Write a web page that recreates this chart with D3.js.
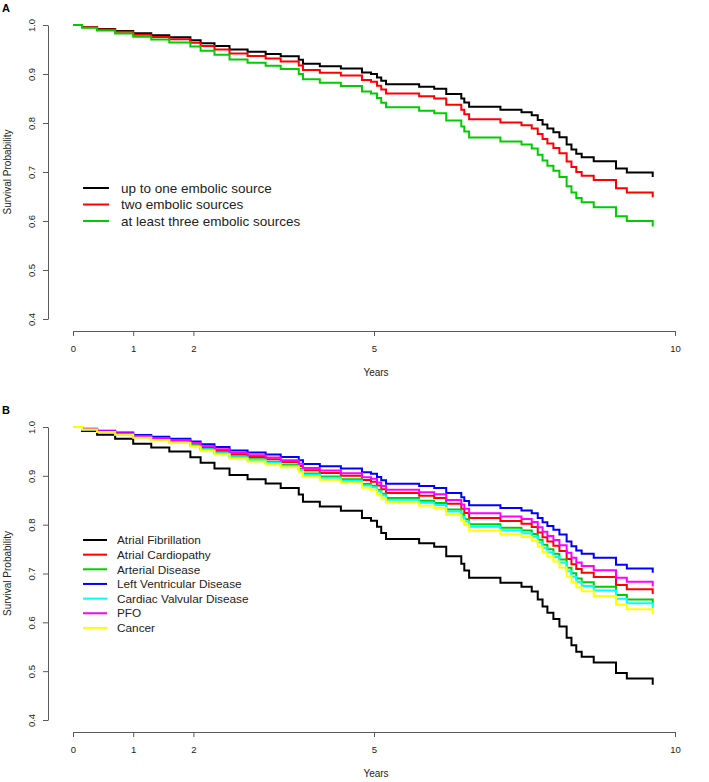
<!DOCTYPE html>
<html>
<head>
<meta charset="utf-8">
<script src="https://cdn.jsdelivr.net/npm/d3@7"></script>
<style>
  html, body { margin: 0; padding: 0; background: #fff; }
  svg { display: block; font-family: "Liberation Sans", Arial, Helvetica, sans-serif; }
</style>
</head>
<body>
<svg id="chart" width="709" height="782"></svg>
<script>
// ---- Data ----
const times = [0, 0.15, 0.4, 0.7, 1.0, 1.3, 1.6, 1.95, 2.12, 2.35, 2.6, 2.9, 3.2, 3.45, 3.75, 3.82, 4.1, 4.45, 4.8, 4.95, 5.05, 5.12, 5.2, 5.75, 6.0, 6.2, 6.45, 6.5, 6.58, 7.1, 7.45, 7.62, 7.72, 7.8, 7.88, 7.98, 8.08, 8.2, 8.28, 8.36, 8.45, 8.65, 9.02, 9.2, 9.63];

// Panel A
const aUpToOne = [1, .996, .992, .988, .983, .979, .975, .969, .963, .957, .95, .9455, .941, .936, .929, .921, .916, .911, .903, .9, .893, .886, .879, .874, .87, .859, .85, .842, .833, .827, .822, .816, .806, .797, .789, .781, .771, .756, .746, .737, .73, .722, .707, .699, .69];
const aTwo = [1, .9953, .9907, .9860, .9801, .9755, .9708, .9639, .9569, .9499, .9418, .9366, .9315, .9257, .9175, .9083, .9025, .8969, .8877, .8842, .8762, .8682, .8601, .8544, .8498, .8373, .8271, .8180, .8079, .8010, .7954, .7886, .7773, .7672, .7582, .7492, .7381, .7213, .7102, .7001, .6924, .6836, .6670, .6582, .6483];
const aThreePlus = [1, .9943, .9886, .9829, .9758, .9702, .9644, .9560, .9476, .9391, .9294, .9231, .9169, .9100, .9002, .8892, .8822, .8755, .8645, .8604, .8508, .8414, .8319, .8251, .8197, .8050, .7930, .7824, .7705, .7625, .7560, .7482, .7351, .7234, .7130, .7028, .6900, .6709, .6583, .6469, .6382, .6283, .6097, .5999, .5888];

// Panel B
const bAtrialFib = [1, .9920, .9840, .9758, .9658, .9581, .9500, .9383, .9266, .9149, .9015, .8928, .8844, .8750, .8616, .8468, .8374, .8283, .8137, .8081, .7955, .7831, .7705, .7617, .7546, .7355, .7201, .7064, .6913, .6811, .6729, .6631, .6467, .6322, .6194, .6068, .5913, .5682, .5531, .5397, .5294, .5178, .4963, .4850, .4724];
const bAtrialCardio = [1, .9955, .9910, .9865, .9808, .9764, .9718, .9651, .9584, .9516, .9438, .9387, .9338, .9282, .9203, .9114, .9058, .9003, .8914, .8880, .8802, .8725, .8647, .8592, .8547, .8426, .8327, .8238, .8139, .8073, .8018, .7952, .7842, .7744, .7656, .7568, .7460, .7296, .7188, .7090, .7014, .6928, .6766, .6679, .6582];
const bArterial = [1, .9952, .9903, .9854, .9793, .9746, .9696, .9624, .9552, .9479, .9395, .9341, .9287, .9228, .9143, .9048, .8987, .8929, .8834, .8797, .8714, .8632, .8548, .8489, .8442, .8312, .8207, .8113, .8008, .7937, .7879, .7810, .7693, .7589, .7497, .7404, .7289, .7117, .7003, .6900, .6820, .6730, .6560, .6470, .6368];
const bLeftVent = [1, .9962, .9924, .9885, .9837, .9799, .9760, .9703, .9646, .9588, .9521, .9478, .9435, .9388, .9320, .9243, .9195, .9148, .9071, .9042, .8974, .8908, .8840, .8792, .8753, .8648, .8561, .8484, .8397, .8339, .8291, .8234, .8137, .8050, .7973, .7895, .7799, .7654, .7557, .7469, .7402, .7324, .7179, .7101, .7013];
const bValvular = [1, .9950, .9900, .9850, .9787, .9738, .9687, .9614, .9539, .9464, .9378, .9322, .9268, .9206, .9119, .9022, .8960, .8900, .8802, .8765, .8680, .8595, .8510, .8449, .8401, .8268, .8160, .8064, .7957, .7884, .7825, .7755, .7635, .7529, .7434, .7340, .7223, .7048, .6931, .6827, .6746, .6654, .6481, .6389, .6286];
const bPFO = [1, .9957, .9915, .9872, .9818, .9777, .9733, .9670, .9606, .9542, .9468, .9420, .9373, .9320, .9245, .9161, .9107, .9055, .8971, .8938, .8864, .8791, .8716, .8664, .8621, .8505, .8411, .8326, .8232, .8168, .8116, .8053, .7948, .7853, .7769, .7686, .7581, .7424, .7320, .7225, .7152, .7069, .6913, .6829, .6735];
const bCancer = [1, .9948, .9896, .9843, .9778, .9727, .9674, .9598, .9520, .9442, .9353, .9295, .9238, .9174, .9084, .8982, .8918, .8856, .8755, .8716, .8628, .8540, .8452, .8389, .8339, .8202, .8090, .7991, .7880, .7806, .7745, .7671, .7548, .7439, .7341, .7244, .7124, .6944, .6824, .6717, .6634, .6540, .6363, .6269, .6164];

const labelsA = ["up to one embolic source", "two embolic sources", "at least three embolic sources"];
const colorsA = ["#000000", "#ff0000", "#00cd00"];
const labelsB = ["Atrial Fibrillation", "Atrial Cardiopathy", "Arterial Disease", "Left Ventricular Disease", "Cardiac Valvular Disease", "PFO", "Cancer"];
const colorsB = ["#000000", "#ff0000", "#00cd00", "#0000ff", "#00ffff", "#ff00ff", "#ffff00"];

const xTicks = [0, 1, 2, 5, 10];
const yTicks = [0.4, 0.5, 0.6, 0.7, 0.8, 0.9, 1.0];
const xDomain = [0, 10];
const yDomain = [0.4, 1.0];

// ---- Drawing ----
const svg = d3.select("#chart");
svg.append("rect").attr("width", 709).attr("height", 782).attr("fill", "#fff");

const AXIS_COL = "#5a5a5a";
const TEXT_COL = "#222";

function drawPanel(cfg) {
  const g = svg.append("g");
  const x = d3.scaleLinear().domain(xDomain).range([73, 675]);
  const y = d3.scaleLinear().domain(yDomain).range([cfg.yBottom, cfg.yTop]);

  // Y axis
  const ya = g.append("g").attr("transform", `translate(48,0)`)
    .call(d3.axisLeft(y).tickValues(yTicks).tickSize(5).tickSizeOuter(0).tickFormat(d3.format(".1f")));
  ya.select(".domain").attr("stroke", AXIS_COL);
  ya.selectAll(".tick line").attr("stroke", AXIS_COL);
  ya.selectAll(".tick text")
    .attr("x", null).attr("dy", null)
    .attr("transform", "translate(-13.5,0) rotate(-90)")
    .attr("text-anchor", "middle")
    .attr("font-size", 9.5).attr("font-family", null).attr("fill", TEXT_COL);

  // X axis
  const xa = g.append("g").attr("transform", `translate(0,${cfg.axisY})`)
    .call(d3.axisBottom(x).tickValues(xTicks).tickSize(5).tickSizeOuter(0).tickFormat(d3.format("d")));
  xa.select(".domain").attr("stroke", AXIS_COL);
  xa.selectAll(".tick line").attr("stroke", AXIS_COL);
  xa.selectAll(".tick text")
    .attr("y", 20.5).attr("dy", null)
    .attr("font-size", 9.5).attr("font-family", null).attr("fill", TEXT_COL);

  // Axis titles
  g.append("text").attr("transform", `translate(10.6,${(cfg.yTop + cfg.yBottom) / 2}) rotate(-90)`)
    .attr("text-anchor", "middle").attr("font-size", 10).attr("fill", TEXT_COL).text("Survival Probability");
  g.append("text").attr("x", 376).attr("y", cfg.axisY + 45)
    .attr("text-anchor", "middle").attr("font-size", 10).attr("fill", TEXT_COL).text("Years");

  // Panel letter
  g.append("text").attr("x", 2).attr("y", cfg.letterY).attr("font-size", 11).attr("font-weight", "bold")
    .attr("fill", "#000").text(cfg.letter);

  // Curves
  const line = d3.line().x(d => x(d[0])).y(d => y(d[1])).curve(d3.curveStepAfter);
  cfg.series.forEach((vals, i) => {
    const pts = times.map((t, k) => [t, vals[k]]);
    g.append("path").attr("d", line(pts)).attr("fill", "none")
      .attr("stroke", cfg.colors[i]).attr("stroke-width", 2).attr("stroke-linejoin", "miter");
  });

  // Legend
  const lg = g.append("g");
  cfg.labels.forEach((lab, i) => {
    const ly = cfg.legendY + i * cfg.legendStep;
    lg.append("line").attr("x1", 83).attr("x2", cfg.legendLineEnd).attr("y1", ly).attr("y2", ly)
      .attr("stroke", cfg.colors[i]).attr("stroke-width", 2);
    lg.append("text").attr("x", cfg.legendTextX).attr("y", ly).attr("dy", "0.36em")
      .attr("font-size", cfg.legendFont).attr("fill", TEXT_COL).text(lab);
  });
}

drawPanel({
  letter: "A", letterY: 12, yTop: 25, yBottom: 319, axisY: 331,
  series: [aUpToOne, aTwo, aThreePlus], colors: colorsA, labels: labelsA,
  legendY: 188, legendStep: 16.5, legendFont: 13.5, legendTextX: 121, legendLineEnd: 109
});
drawPanel({
  letter: "B", letterY: 414, yTop: 427, yBottom: 720, axisY: 732,
  series: [bAtrialFib, bAtrialCardio, bArterial, bLeftVent, bValvular, bPFO, bCancer], colors: colorsB, labels: labelsB,
  legendY: 540, legendStep: 14.65, legendFont: 11.8, legendTextX: 117, legendLineEnd: 107
});
</script>
</body>
</html>
